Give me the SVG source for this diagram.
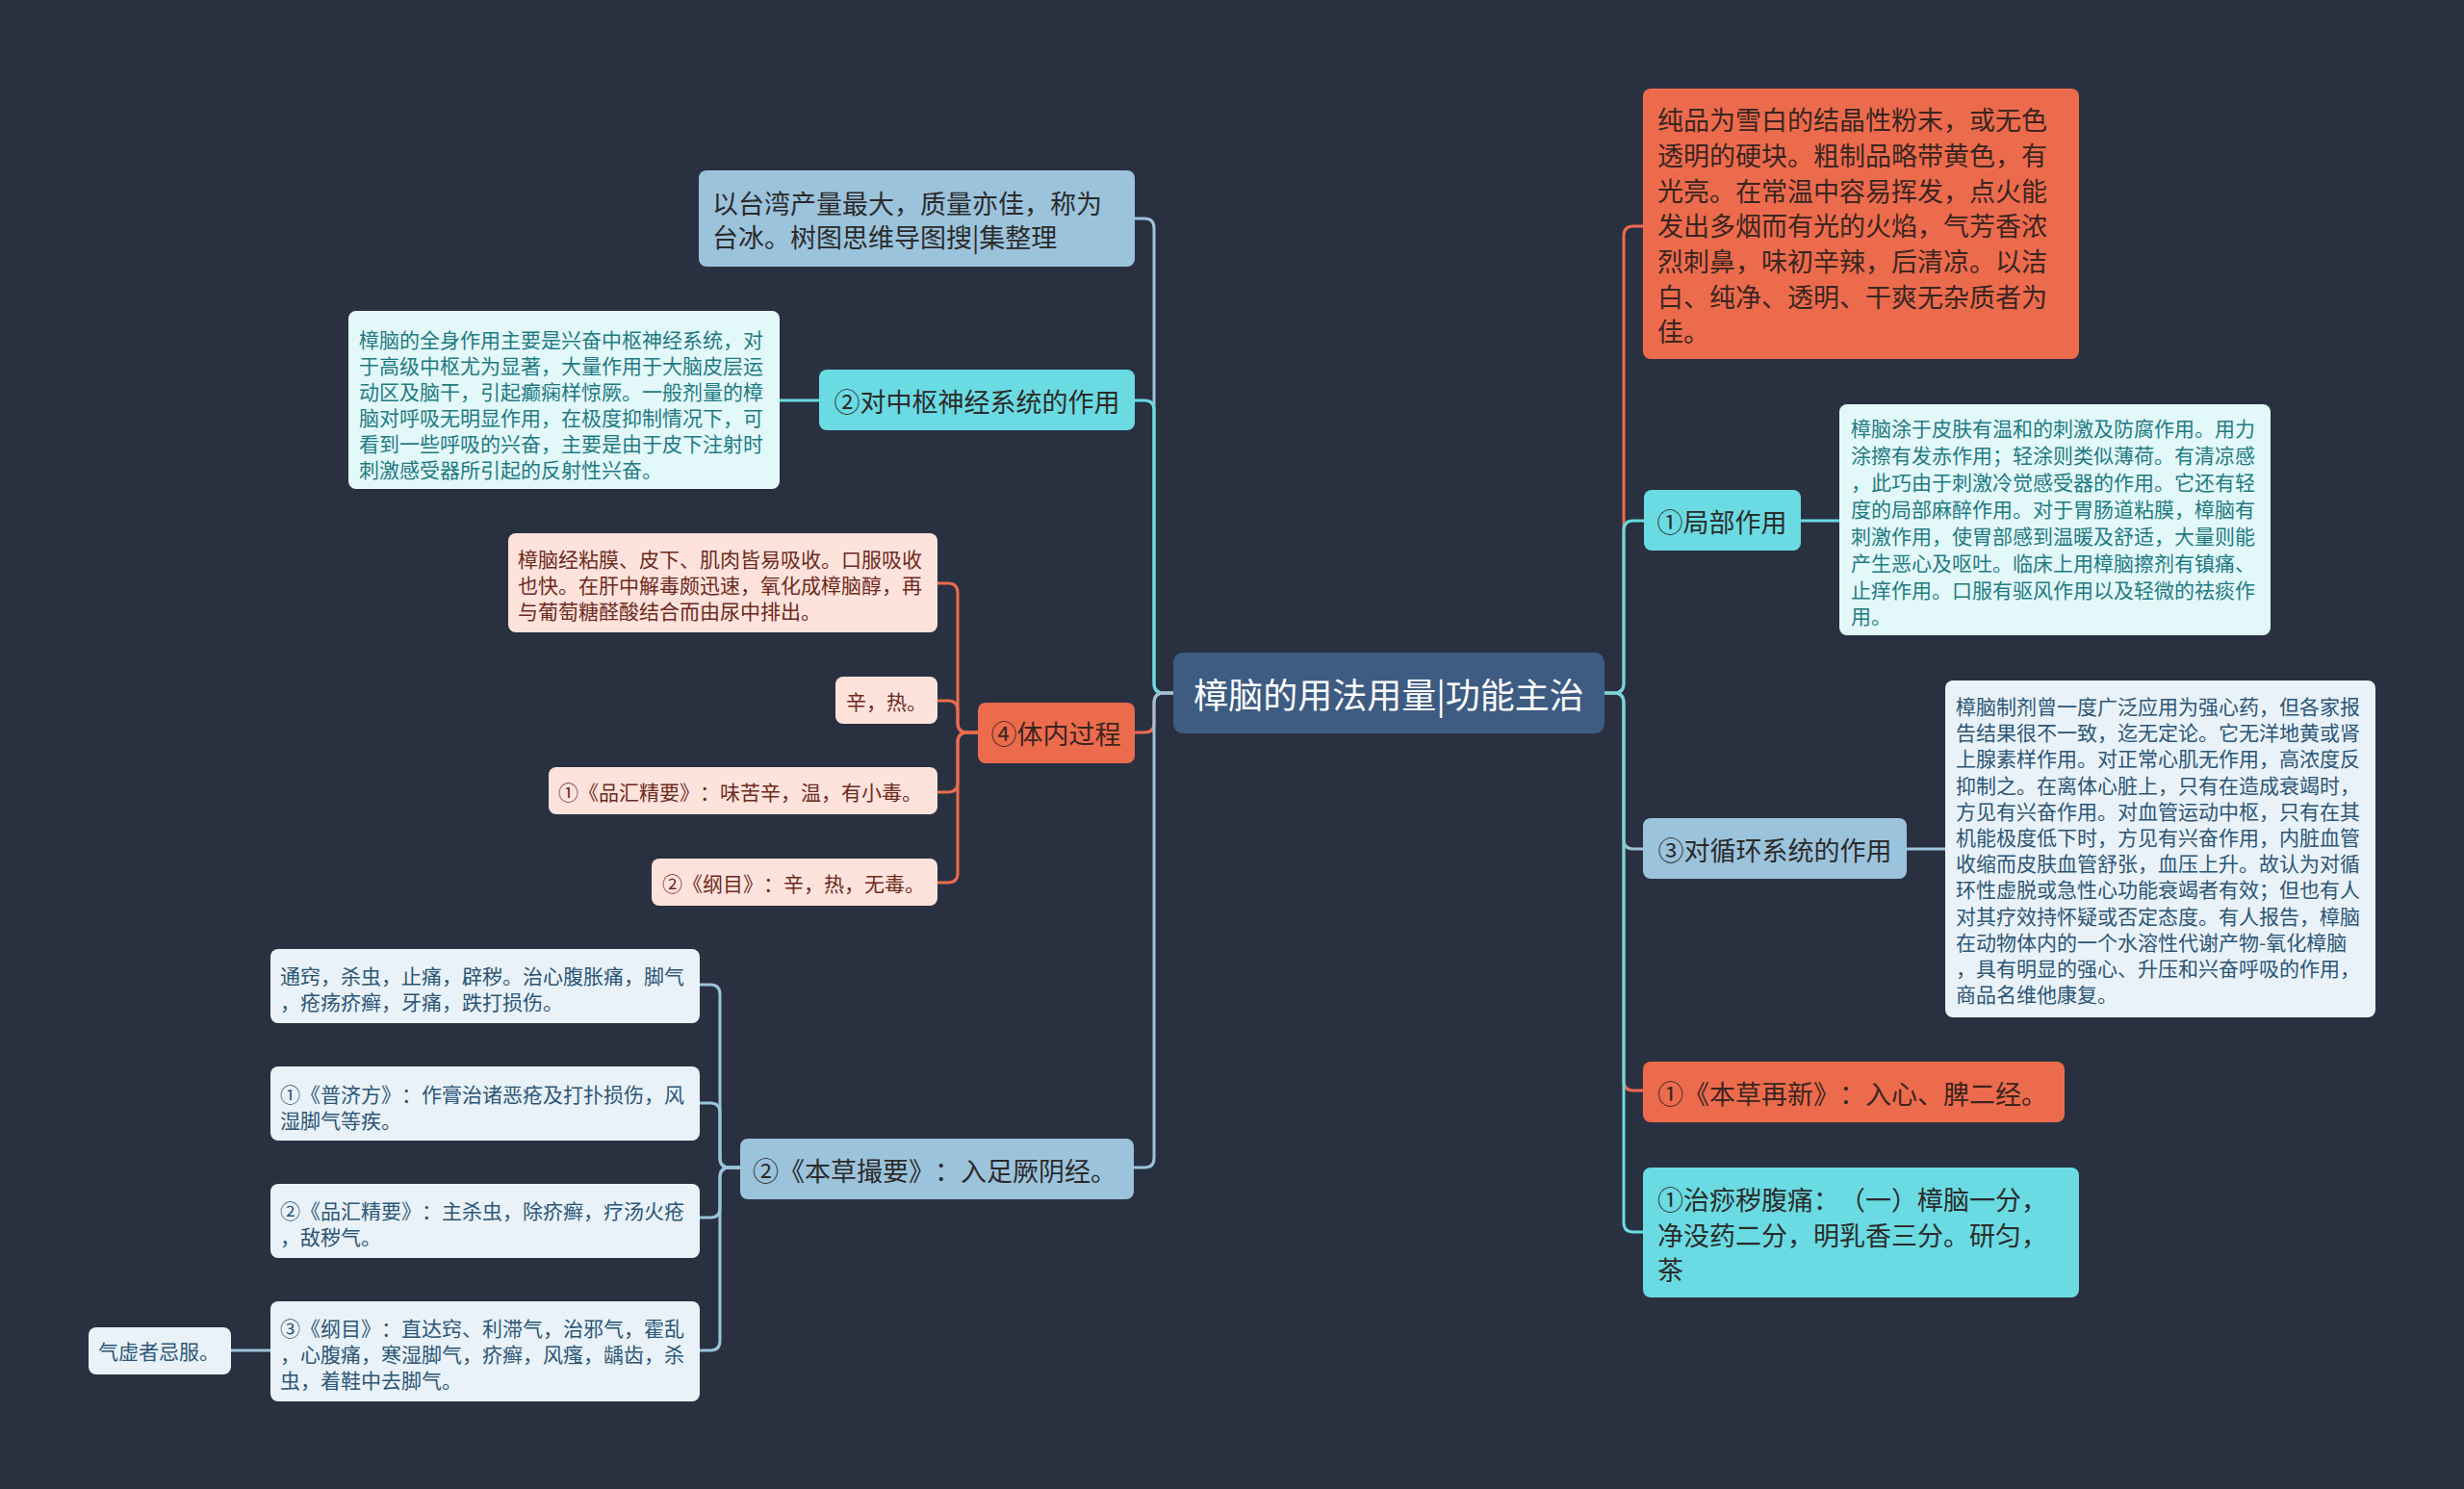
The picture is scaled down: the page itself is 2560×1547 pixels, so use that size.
<svg xmlns="http://www.w3.org/2000/svg" width="2560" height="1547" viewBox="0 0 2560 1547">
<style>
text{font-family:"Noto Sans CJK SC","Noto Sans",sans-serif;dominant-baseline:central;text-spacing-trim:space-all}
.bg{fill:#293141}
.root{fill:#3e5c82}
.rt{fill:#ffffff;font-size:36px}
.or{fill:#ec6b4d}
.cy{fill:#6adbe2}
.lb{fill:#9cc3dc}
.t1{fill:#2b2b2b;font-size:27px}
.t1o{fill:#3a2520;font-size:27px}
.pc{fill:#e3f8f9}
.pp{fill:#fde3dc}
.pb{fill:#e9f2f8}
.tc{fill:#1f7b82;font-size:21px}
.tp{fill:#6e2a1c;font-size:21px}
.tb{fill:#2d5676;font-size:21px}
.c{fill:none;stroke-width:3;stroke-linecap:round}
.co{stroke:#ec6b4d}
.cc{stroke:#6adbe2}
.cb{stroke:#9cc3dc}
</style>
<rect class="bg" x="0" y="0" width="2560" height="1547"/>

<g id="connectors">
  <path class="c co" d="M1667 720 H1677 Q1687 720 1687 710 V245 Q1687 235 1697 235 H1707"/>
  <path class="c cc" d="M1667 720 H1677 Q1687 720 1687 710 V551 Q1687 541 1697 541 H1708"/>
  <path class="c cb" d="M1667 720 H1677 Q1687 720 1687 730 V872 Q1687 882 1697 882 H1707"/>
  <path class="c co" d="M1667 720 H1677 Q1687 720 1687 730 V1123 Q1687 1133 1697 1133 H1707"/>
  <path class="c cc" d="M1667 720 H1677 Q1687 720 1687 730 V1270 Q1687 1280 1697 1280 H1707"/>
  <path class="c cb" d="M1219 720 H1209 Q1199 720 1199 710 V237 Q1199 227 1189 227 H1179"/>
  <path class="c cc" d="M1219 720 H1209 Q1199 720 1199 710 V426 Q1199 416 1189 416 H1179"/>
  <path class="c co" d="M1219 720 H1209 Q1199 720 1199 730 V751 Q1199 761 1189 761 H1179"/>
  <path class="c cb" d="M1219 720 H1209 Q1199 720 1199 730 V1203 Q1199 1213 1189 1213 H1178"/>
  <path class="c cc" d="M1871 541 H1911"/>
  <path class="c cb" d="M1981 882 H2021"/>
  <path class="c cc" d="M851 416 H810"/>
  <path class="c co" d="M1016 761 H1005 Q995 761 995 751 V616 Q995 606 985 606 H974"/>
  <path class="c co" d="M1016 761 H1005 Q995 761 995 751 V738 Q995 728 985 728 H974"/>
  <path class="c co" d="M1016 761 H1005 Q995 761 995 771 V813 Q995 823 985 823 H974"/>
  <path class="c co" d="M1016 761 H1005 Q995 761 995 771 V907 Q995 917 985 917 H974"/>
  <path class="c cb" d="M769 1213 H758 Q748 1213 748 1203 V1033 Q748 1023 738 1023 H727"/>
  <path class="c cb" d="M769 1213 H758 Q748 1213 748 1203 V1156 Q748 1146 738 1146 H727"/>
  <path class="c cb" d="M769 1213 H758 Q748 1213 748 1223 V1255 Q748 1265 738 1265 H727"/>
  <path class="c cb" d="M769 1213 H758 Q748 1213 748 1223 V1393 Q748 1403 738 1403 H727"/>
  <path class="c cb" d="M281 1403 H240"/>
</g>

<g id="root">
  <rect class="root" x="1219" y="678" width="448" height="84" rx="10"/>
  <text class="rt" x="1443" y="720" text-anchor="middle">樟脑的用法用量|功能主治</text>
</g>

<g id="r1">
  <rect class="or" x="1707" y="92" width="453" height="281" rx="8"/>
  <text class="t1o" x="1722" y="123">纯品为雪白的结晶性粉末，或无色</text>
  <text class="t1o" x="1722" y="160">透明的硬块。粗制品略带黄色，有</text>
  <text class="t1o" x="1722" y="197">光亮。在常温中容易挥发，点火能</text>
  <text class="t1o" x="1722" y="233">发出多烟而有光的火焰，气芳香浓</text>
  <text class="t1o" x="1722" y="270">烈刺鼻，味初辛辣，后清凉。以洁</text>
  <text class="t1o" x="1722" y="307">白、纯净、透明、干爽无杂质者为</text>
  <text class="t1o" x="1722" y="343">佳。</text>
</g>

<g id="r2">
  <rect class="cy" x="1708" y="509" width="163" height="63" rx="8"/>
  <text class="t1" x="1789" y="541" text-anchor="middle">①局部作用</text>
</g>
<g id="r2a">
  <rect class="pc" x="1911" y="420" width="448" height="240" rx="8"/>
  <text class="tc" x="1923" y="444">樟脑涂于皮肤有温和的刺激及防腐作用。用力</text>
  <text class="tc" x="1923" y="472">涂擦有发赤作用；轻涂则类似薄荷。有清凉感</text>
  <text class="tc" x="1923" y="500">，此巧由于刺激冷觉感受器的作用。它还有轻</text>
  <text class="tc" x="1923" y="528">度的局部麻醉作用。对于胃肠道粘膜，樟脑有</text>
  <text class="tc" x="1923" y="556">刺激作用，使胃部感到温暖及舒适，大量则能</text>
  <text class="tc" x="1923" y="584">产生恶心及呕吐。临床上用樟脑擦剂有镇痛、</text>
  <text class="tc" x="1923" y="612">止痒作用。口服有驱风作用以及轻微的祛痰作</text>
  <text class="tc" x="1923" y="639">用。</text>
</g>

<g id="r3">
  <rect class="lb" x="1707" y="850" width="274" height="63" rx="8"/>
  <text class="t1" x="1844" y="882" text-anchor="middle">③对循环系统的作用</text>
</g>
<g id="r3a">
  <rect class="pb" x="2021" y="707" width="447" height="350" rx="8"/>
  <text class="tb" x="2032" y="733">樟脑制剂曾一度广泛应用为强心药，但各家报</text>
  <text class="tb" x="2032" y="760">告结果很不一致，迄无定论。它无洋地黄或肾</text>
  <text class="tb" x="2032" y="787">上腺素样作用。对正常心肌无作用，高浓度反</text>
  <text class="tb" x="2032" y="815">抑制之。在离体心脏上，只有在造成衰竭时，</text>
  <text class="tb" x="2032" y="842">方见有兴奋作用。对血管运动中枢，只有在其</text>
  <text class="tb" x="2032" y="869">机能极度低下时，方见有兴奋作用，内脏血管</text>
  <text class="tb" x="2032" y="896">收缩而皮肤血管舒张，血压上升。故认为对循</text>
  <text class="tb" x="2032" y="923">环性虚脱或急性心功能衰竭者有效；但也有人</text>
  <text class="tb" x="2032" y="951">对其疗效持怀疑或否定态度。有人报告，樟脑</text>
  <text class="tb" x="2032" y="978">在动物体内的一个水溶性代谢产物-氧化樟脑</text>
  <text class="tb" x="2032" y="1005">，具有明显的强心、升压和兴奋呼吸的作用，</text>
  <text class="tb" x="2032" y="1032">商品名维他康复。</text>
</g>

<g id="r4">
  <rect class="or" x="1707" y="1103" width="438" height="63" rx="8"/>
  <text class="t1o" x="1722" y="1135">①《本草再新》：入心、脾二经。</text>
</g>

<g id="r5">
  <rect class="cy" x="1707" y="1213" width="453" height="135" rx="8"/>
  <text class="t1" x="1722" y="1245">①治痧秽腹痛：（一）樟脑一分，</text>
  <text class="t1" x="1722" y="1282">净没药二分，明乳香三分。研匀，</text>
  <text class="t1" x="1722" y="1318">茶</text>
</g>

<g id="l1">
  <rect class="lb" x="726" y="177" width="453" height="100" rx="8"/>
  <text class="t1" x="740" y="210">以台湾产量最大，质量亦佳，称为</text>
  <text class="t1" x="740" y="245">台冰。树图思维导图搜|集整理</text>
</g>

<g id="l2">
  <rect class="cy" x="851" y="384" width="328" height="63" rx="8"/>
  <text class="t1" x="1015" y="416" text-anchor="middle">②对中枢神经系统的作用</text>
</g>
<g id="l2a">
  <rect class="pc" x="362" y="323" width="448" height="185" rx="8"/>
  <text class="tc" x="373" y="352">樟脑的全身作用主要是兴奋中枢神经系统，对</text>
  <text class="tc" x="373" y="379">于高级中枢尤为显著，大量作用于大脑皮层运</text>
  <text class="tc" x="373" y="406">动区及脑干，引起癫痫样惊厥。一般剂量的樟</text>
  <text class="tc" x="373" y="433">脑对呼吸无明显作用，在极度抑制情况下，可</text>
  <text class="tc" x="373" y="460">看到一些呼吸的兴奋，主要是由于皮下注射时</text>
  <text class="tc" x="373" y="487">刺激感受器所引起的反射性兴奋。</text>
</g>

<g id="l3">
  <rect class="or" x="1016" y="730" width="163" height="63" rx="8"/>
  <text class="t1o" x="1097" y="761" text-anchor="middle">④体内过程</text>
</g>
<g id="l3a">
  <rect class="pp" x="528" y="554" width="446" height="103" rx="8"/>
  <text class="tp" x="538" y="580">樟脑经粘膜、皮下、肌肉皆易吸收。口服吸收</text>
  <text class="tp" x="538" y="607">也快。在肝中解毒颇迅速，氧化成樟脑醇，再</text>
  <text class="tp" x="538" y="634">与葡萄糖醛酸结合而由尿中排出。</text>
</g>
<g id="l3b">
  <rect class="pp" x="868" y="703" width="106" height="49" rx="8"/>
  <text class="tp" x="879" y="728">辛，热。</text>
</g>
<g id="l3c">
  <rect class="pp" x="570" y="797" width="404" height="49" rx="8"/>
  <text class="tp" x="580" y="822">①《品汇精要》：味苦辛，温，有小毒。</text>
</g>
<g id="l3d">
  <rect class="pp" x="677" y="892" width="297" height="49" rx="8"/>
  <text class="tp" x="688" y="917">②《纲目》：辛，热，无毒。</text>
</g>

<g id="l4">
  <rect class="lb" x="769" y="1183" width="409" height="63" rx="8"/>
  <text class="t1" x="782" y="1215">②《本草撮要》：入足厥阴经。</text>
</g>
<g id="l4a">
  <rect class="pb" x="281" y="986" width="446" height="77" rx="8"/>
  <text class="tb" x="291" y="1013">通窍，杀虫，止痛，辟秽。治心腹胀痛，脚气</text>
  <text class="tb" x="291" y="1040">，疮疡疥癣，牙痛，跌打损伤。</text>
</g>
<g id="l4b">
  <rect class="pb" x="281" y="1108" width="446" height="77" rx="8"/>
  <text class="tb" x="291" y="1136">①《普济方》：作膏治诸恶疮及打扑损伤，风</text>
  <text class="tb" x="291" y="1163">湿脚气等疾。</text>
</g>
<g id="l4c">
  <rect class="pb" x="281" y="1230" width="446" height="77" rx="8"/>
  <text class="tb" x="291" y="1257">②《品汇精要》：主杀虫，除疥癣，疗汤火疮</text>
  <text class="tb" x="291" y="1284">，敌秽气。</text>
</g>
<g id="l4d">
  <rect class="pb" x="281" y="1352" width="446" height="104" rx="8"/>
  <text class="tb" x="291" y="1379">③《纲目》：直达窍、利滞气，治邪气，霍乱</text>
  <text class="tb" x="291" y="1406">，心腹痛，寒湿脚气，疥癣，风瘙，龋齿，杀</text>
  <text class="tb" x="291" y="1433">虫，着鞋中去脚气。</text>
</g>
<g id="l4e">
  <rect class="pb" x="92" y="1379" width="148" height="49" rx="8"/>
  <text class="tb" x="102" y="1403">气虚者忌服。</text>
</g>
</svg>
